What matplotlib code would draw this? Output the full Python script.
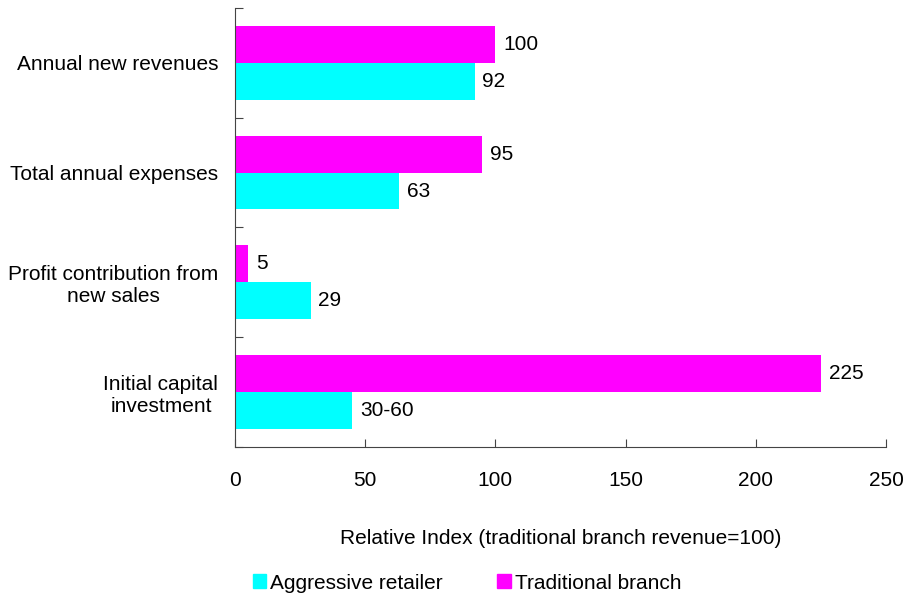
import matplotlib.pyplot as plt
import numpy as np
from matplotlib.patches import Patch

plt.rcParams['font.family'] = ['Liberation Sans', 'DejaVu Sans']
plt.rcParams['font.size'] = 15

categories = ['Annual new revenues', 'Total annual expenses',
              'Profit contribution from\nnew sales', 'Initial capital\ninvestment']
traditional = [100, 95, 5, 225]
aggressive = [92, 63, 29, 45]
aggressive_labels = ['92', '63', '29', '30-60']
traditional_labels = ['100', '95', '5', '225']

cyan = '#00FFFF'
magenta = '#FF00FF'

fig = plt.figure(figsize=(9.07, 5.95), dpi=100)
ax = fig.add_axes([0.2591, 0.2487, 0.7177, 0.7379])

y = np.arange(len(categories))
h = 0.336
ax.barh(y - h / 2, traditional, height=h, color=magenta)
ax.barh(y + h / 2, aggressive, height=h, color=cyan)

# value labels just past the end of each bar
for i in range(len(categories)):
    ax.annotate(traditional_labels[i], (traditional[i], y[i] - h / 2),
                xytext=(5.5, 0), textcoords='offset points', va='center', ha='left')
    ax.annotate(aggressive_labels[i], (aggressive[i], y[i] + h / 2),
                xytext=(5.5, 0), textcoords='offset points', va='center', ha='left')

ax.set_xlim(0, 250)
ax.set_ylim(3.5, -0.5)
ax.set_xticks([0, 50, 100, 150, 200, 250])
ax.set_yticks(np.arange(-0.5, 4, 1))
ax.set_yticklabels([])
ax.set_yticks(y, minor=True)
ax.set_yticklabels(categories, minor=True, ha='right', multialignment='center')
ax.tick_params(axis='y', which='minor', length=0, pad=12)
ax.tick_params(axis='y', which='major', direction='in', length=6, color='#444444')
ax.tick_params(axis='x', direction='in', length=6, pad=17, color='#444444')
for s in ['top', 'right']:
    ax.spines[s].set_visible(False)
for s in ['left', 'bottom']:
    ax.spines[s].set_color('#444444')

ax.set_xlabel('Relative Index (traditional branch revenue=100)', labelpad=28)

handles = [Patch(color=cyan), Patch(color=magenta)]
fig.legend(handles, ['Aggressive retailer', 'Traditional branch'], loc='center',
           bbox_to_anchor=(0.515, 0.02), ncol=2, frameon=False, handlelength=0.65,
           handleheight=0.65, handletextpad=0.2, columnspacing=2.6)

fig.savefig('out.png', dpi=100)
